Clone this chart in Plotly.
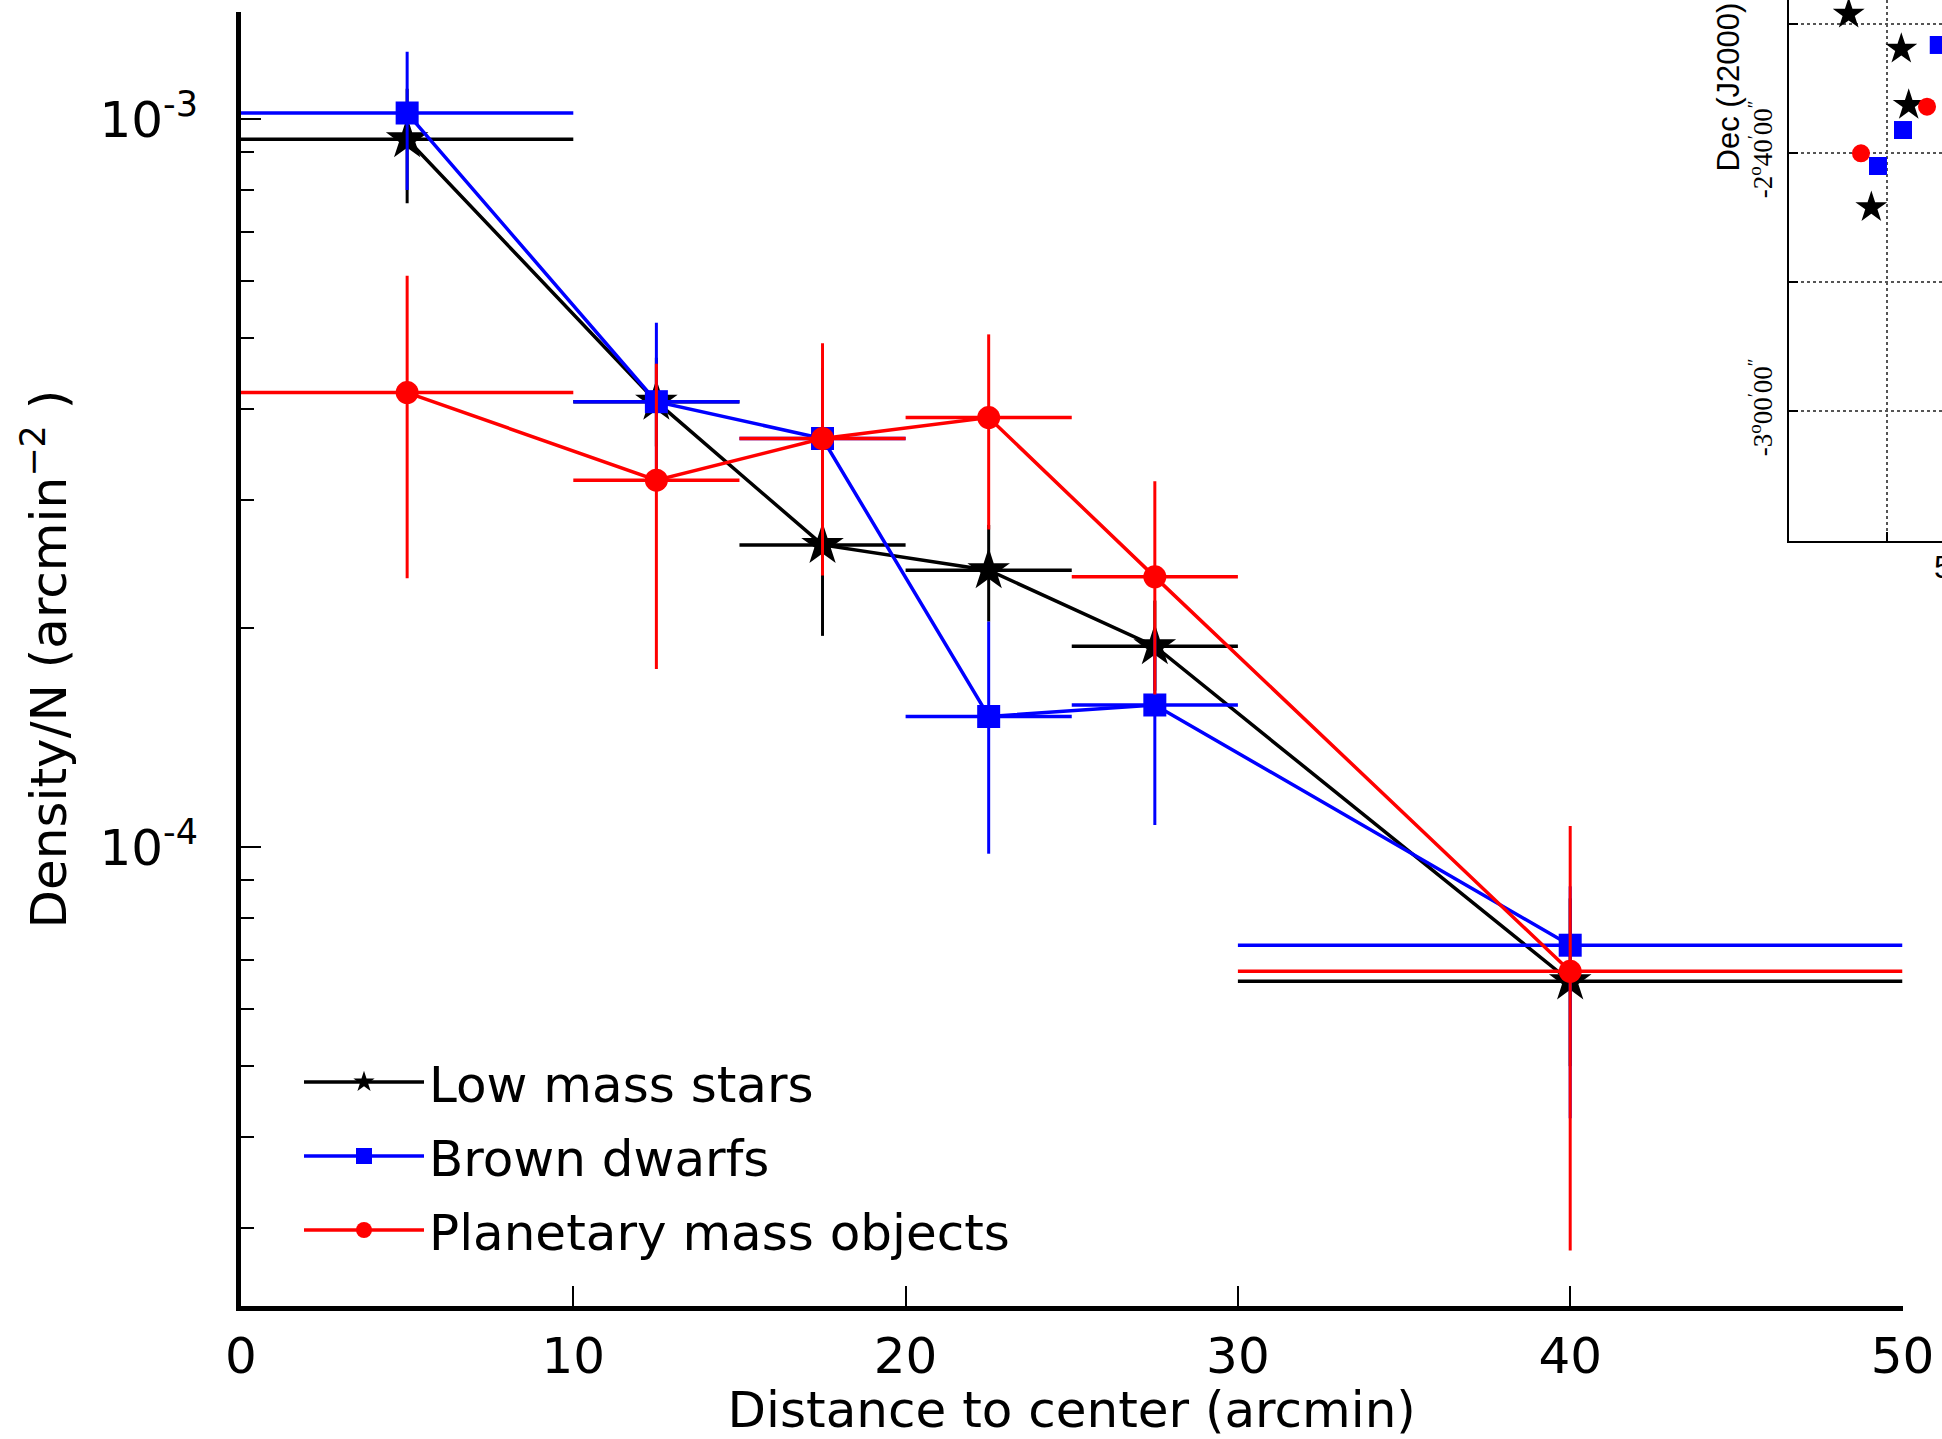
import numpy as np
import plotly.graph_objects as go

W, H = 1942, 1439

# ---------------- data ----------------
x_center = [5, 12.5, 17.5, 22.5, 27.5, 40]
x_halfwidth = [5, 2.5, 2.5, 2.5, 2.5, 10]

stars_y = [9.38e-4, 4.09e-4, 2.60e-4, 2.40e-4, 1.887e-4, 6.54e-5]
stars_hi = [1.10e-3, 4.70e-4, 3.30e-4, 2.77e-4, 2.18e-4, 8.5e-5]
stars_lo = [7.66e-4, 3.55e-4, 1.95e-4, 2.04e-4, 1.64e-4, 5.0e-5]

bd_y = [1.019e-3, 4.09e-4, 3.64e-4, 1.511e-4, 1.567e-4, 7.33e-5]
bd_hi = [1.237e-3, 5.25e-4, 4.55e-4, 2.04e-4, 1.97e-4, 8.83e-5]
bd_lo = [7.99e-4, 3.19e-4, 2.86e-4, 9.79e-5, 1.072e-4, 4.24e-5]

pmo_y = [4.21e-4, 3.19e-4, 3.64e-4, 3.89e-4, 2.35e-4, 6.75e-5]
pmo_hi = [6.09e-4, 4.61e-4, 4.92e-4, 5.06e-4, 3.18e-4, 1.069e-4]
pmo_lo = [2.34e-4, 1.756e-4, 2.36e-4, 2.73e-4, 1.62e-4, 2.79e-5]

series_names = ["Low mass stars", "Brown dwarfs", "Planetary mass objects"]

x_ticks = [0, 10, 20, 30, 40, 50]
y_major = [1e-4, 1e-3]
y_major_text = ["10<sup>-4</sup>", "10<sup>-3</sup>"]
y_minor = [m * 10.0 ** e for e in (-5, -4) for m in range(2, 10)]

# inset sky map (RA, Dec in degrees)
ra_stars = [84.7996, 84.7315, 84.7219, 84.7703]
dec_stars = [-2.4867, -2.5319, -2.6044, -2.7365]
ra_bd = [84.6830, 84.7293, 84.7617]
dec_bd = [-2.5267, -2.6366, -2.6831]
ra_pmo = [84.6982, 84.7837]
dec_pmo = [-2.6065, -2.6667]
inset_dec_ticks = [-2.5, -8 / 3, -17 / 6, -3.0]
inset_dec_text = ["", "-2<sup>o</sup>40<sup>′</sup>00<sup>″</sup>", "",
                  "-3<sup>o</sup>00<sup>′</sup>00<sup>″</sup>"]
inset_ra_ticks = [84.75]

# ---------------- layout geometry (pixels) ----------------
def fx(p):
    return p / W


def fy(p):
    return 1 - p / H


L, R, T, B = 241, 1902.5, 12.3, 1306
xr = [0, 50]
yr = [-4.63049, -2.85343]
ppd = (B - T) / (yr[1] - yr[0])          # pixels per decade
top_end = 1690                            # top spine hidden by inset beyond here
right_start = 641.7                       # right spine hidden above here
top_range = [0, (top_end - L) / ((R - L) / (xr[1] - xr[0]))]
right_range = [yr[0], yr[0] + (B - right_start) / ppd]

FONT = "DejaVu Sans"
fig = go.Figure()

styles = [
    ("black", "star", 32, stars_y, stars_hi, stars_lo),
    ("#0000ff", "square", 23, bd_y, bd_hi, bd_lo),
    ("#ff0000", "circle", 23, pmo_y, pmo_hi, pmo_lo),
]
for name, (col, sym, size, yv, hi, lo) in zip(series_names, styles):
    fig.add_trace(go.Scatter(
        x=x_center, y=yv, name=name, mode="lines+markers",
        legendgroup=name,
        line=dict(color=col, width=3.5),
        marker=dict(symbol=sym, size=size, color=col, line=dict(width=0)),
        error_x=dict(type="data", array=x_halfwidth, color=col, thickness=3.5, width=0),
        error_y=dict(type="data", symmetric=False,
                     array=[h - v for h, v in zip(hi, yv)],
                     arrayminus=[v - l for v, l in zip(yv, lo)],
                     color=col, thickness=3, width=0),
        xaxis="x", yaxis="y"))

for ra, dec, col, sym, size in [
    (ra_stars, dec_stars, "black", "star", 24),
    (ra_bd, dec_bd, "#0000ff", "square", 18),
    (ra_pmo, dec_pmo, "#ff0000", "circle", 18),
]:
    fig.add_trace(go.Scatter(
        x=ra, y=dec, mode="markers", showlegend=False,
        marker=dict(symbol=sym, size=size, color=col, line=dict(width=0)),
        xaxis="x2", yaxis="y2"))

common = dict(showgrid=False, zeroline=False, linecolor="black", linewidth=5,
              showline=True, ticks="inside", tickcolor="black", tickwidth=1.5,
              ticklen=20)

fig.update_layout(
    width=W, height=H, autosize=False,
    margin=dict(l=0, r=0, t=0, b=0, pad=0),
    paper_bgcolor="white", plot_bgcolor="white",
    font=dict(family=FONT, size=50, color="black"),
    xaxis=dict(domain=[fx(L), fx(R)], range=xr, anchor="y", tickvals=x_ticks,
               tickfont=dict(family=FONT, size=50), automargin=False,
               ticklabelstandoff=2,
               title=dict(text="Distance to center (arcmin)", standoff=26,
                          font=dict(family=FONT, size=50)),
               **common),
    yaxis=dict(domain=[fy(B), fy(T)], type="log", range=yr, anchor="x",
               tickvals=y_major, ticktext=y_major_text, automargin=False,
               tickfont=dict(family=FONT, size=50), ticklabelstandoff=28,
               minor=dict(tickvals=y_minor, ticks="inside", ticklen=13,
                          tickwidth=1.5, tickcolor="black", showgrid=False),
               title=dict(text="Density/N (arcmin<sup>−2</sup> )", standoff=18,
                          font=dict(family=FONT, size=50)),
               **common),
    xaxis3=dict(domain=[fx(L), fx(top_end)], range=top_range, anchor="free",
                position=fy(T), side="top", tickvals=x_ticks[:-1],
                showticklabels=False, automargin=False, **common),
    yaxis3=dict(domain=[fy(B), fy(right_start)], type="log", range=right_range,
                anchor="free", position=fx(R), side="right", tickvals=y_major,
                showticklabels=False, automargin=False,
                minor=dict(tickvals=y_minor, ticks="inside", ticklen=13,
                           tickwidth=1.5, tickcolor="black", showgrid=False),
                **common),
    xaxis2=dict(domain=[fx(1789), 1], range=[84.8769, 84.6788], anchor="y2",
                showline=True, linecolor="black", linewidth=2, zeroline=False,
                showgrid=True, gridcolor="#555555", gridwidth=1.5, griddash="dot",
                tickvals=inset_ra_ticks, showticklabels=False,
                ticks="inside", ticklen=9, tickwidth=1.5, tickcolor="black",
                automargin=False),
    yaxis2=dict(domain=[fy(541), 1], range=[-3.16757, -2.46860], anchor="x2",
                showline=True, linecolor="black", linewidth=2, zeroline=False,
                showgrid=True, gridcolor="#555555", gridwidth=1.5, griddash="dot",
                tickvals=inset_dec_ticks, ticktext=inset_dec_text, tickangle=-90,
                tickfont=dict(family="Liberation Serif", size=27),
                ticks="inside", ticklen=9, tickwidth=1.5, tickcolor="black",
                ticklabelstandoff=4, automargin=False),
    legend=dict(x=fx(299), y=fy(1043), xanchor="left", yanchor="top",
                font=dict(family=FONT, size=50, color="black"),
                bgcolor="rgba(0,0,0,0)", borderwidth=0, itemwidth=120,
                tracegroupgap=6, itemsizing="trace"),
    annotations=[
        dict(text="Dec (J2000)", xref="paper", yref="paper", x=fx(1728),
             y=fy(87.5), textangle=-90, showarrow=False, xanchor="center",
             yanchor="middle", font=dict(family="Liberation Sans", size=31)),
        dict(text="5<sup>h</sup>38<sup>m</sup>30<sup>s</sup>", xref="paper",
             yref="paper", x=fx(1932), y=fy(565), showarrow=False,
             xanchor="left", yanchor="middle",
             font=dict(family="Liberation Sans", size=32)),
    ],
)

fig.write_html("out.html")
